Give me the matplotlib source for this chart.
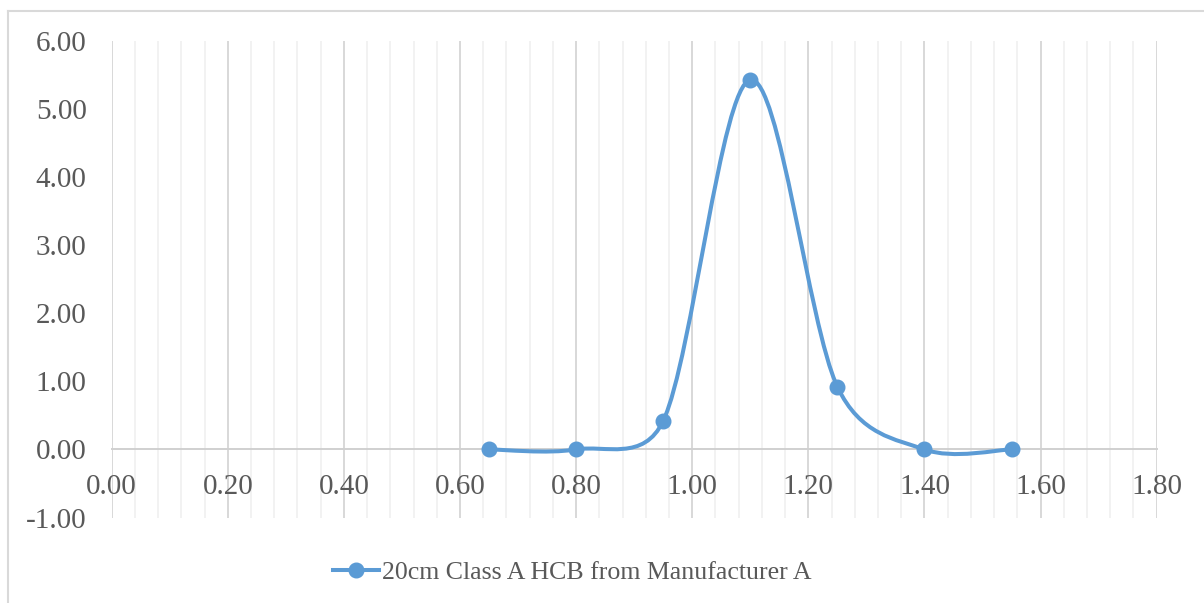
import numpy as np
import matplotlib
matplotlib.use("Agg")
import matplotlib.pyplot as plt
from matplotlib.path import Path
from matplotlib.patches import PathPatch
from matplotlib.lines import Line2D

x_vals = [0.65, 0.80, 0.95, 1.10, 1.25, 1.40, 1.55]
y_vals = [0.00, 0.00, 0.42, 5.43, 0.92, 0.00, 0.00]
series_name = "20cm Class A HCB from Manufacturer A"
x_ticks = [0.0, 0.2, 0.4, 0.6, 0.8, 1.0, 1.2, 1.4, 1.6, 1.8]
y_ticks = [-1, 0, 1, 2, 3, 4, 5, 6]

BLUE = "#5B9BD5"
TEXT = "#595959"
plt.rcParams['font.family'] = ['Liberation Serif', 'DejaVu Serif']

fig = plt.figure(figsize=(12.04, 6.03), dpi=100)
ax = fig.add_axes([111.7/1204, 1-517.5/603, (1156.7-111.7)/1204, (517.5-41)/603])
ax.set_xlim(0, 1.8)
ax.set_ylim(-1, 6)

# gridlines
minor = np.arange(0, 1.8001, 0.04)
for m in minor:
    ax.axvline(m, color="#F0F0F0", lw=1.2, zorder=0)
for t in x_ticks:
    ax.axvline(t, color="#D9D9D9", lw=1.4, zorder=0.5)

for s in ax.spines.values():
    s.set_visible(False)
ax.spines['bottom'].set_visible(True)
ax.spines['bottom'].set_position(('data', 0))
ax.spines['bottom'].set_color("#D0D0D0")
ax.spines['bottom'].set_linewidth(1.4)

ax.set_xticks(x_ticks)
ax.set_xticklabels([f"{v:.2f}" for v in x_ticks])
ax.set_yticks(y_ticks)
ax.set_yticklabels([f"{v:.2f}" for v in y_ticks])
ax.tick_params(axis='both', length=0, labelsize=21, colors=TEXT)
ax.tick_params(axis='x', pad=18)
ax.tick_params(axis='y', pad=18)

# Excel-like smoothed curve: cubic Bezier, arm length 1/6 of chord to neighbours,
# capped at half the segment length (measured in display space)
pts = np.column_stack([x_vals, y_vals])
disp = ax.transData.transform(pts)
n = len(pts)
verts = [tuple(pts[0])]
codes = [Path.MOVETO]
for i in range(n - 1):
    i0 = i - 1 if i > 0 else i
    i3 = i + 2 if i + 2 < n else i + 1
    p0, p1, p2, p3 = pts[i0], pts[i], pts[i + 1], pts[i3]
    d0, d1, d2, d3 = disp[i0], disp[i], disp[i + 1], disp[i3]
    d12 = np.hypot(*(d2 - d1))
    d02 = np.hypot(*(d2 - d0))
    d13 = np.hypot(*(d3 - d1))
    f0 = 1/6 if d02/6 < d12/2 else (d12/2)/d02
    f1 = 1/6 if d13/6 < d12/2 else (d12/2)/d13
    c1 = p1 + (p2 - p0) * f0
    c2 = p2 - (p3 - p1) * f1
    verts += [tuple(c1), tuple(c2), tuple(p2)]
    codes += [Path.CURVE4] * 3
patch = PathPatch(Path(verts, codes), facecolor='none', edgecolor=BLUE, lw=2.9,
                  capstyle='round', joinstyle='round', zorder=3)
ax.add_patch(patch)
ax.plot(x_vals, y_vals, linestyle='none', marker='o', markersize=10.5,
        color=BLUE, zorder=4)

# legend
handle = Line2D([], [], color=BLUE, lw=2.9, marker='o', markersize=10.5)
fig.legend([handle], [series_name], loc='center', bbox_to_anchor=(572/1204, 1-572/603),
           frameon=False, fontsize=18.6, labelcolor=TEXT, handlelength=1.8,
           handletextpad=0.1)

# outer border
fig.add_artist(Line2D([8/1204, 8/1204], [0, 1-10.5/603], transform=fig.transFigure,
                      color="#D9D9D9", lw=1.5))
fig.add_artist(Line2D([8/1204, 1], [1-10.5/603, 1-10.5/603], transform=fig.transFigure,
                      color="#D9D9D9", lw=1.5))

fig.savefig("out.png", dpi=100)
